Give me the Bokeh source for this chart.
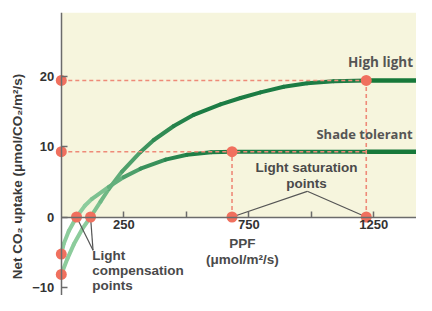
import math
from bokeh.plotting import figure
from bokeh.models import (Range1d, LinearAxis, FixedTicker, BoxAnnotation, Label,
                          ColumnDataSource)
from bokeh.embed import file_html
from bokeh.resources import INLINE

# ---------------- data ----------------
high_x = [0, 25, 50, 84, 117, 157, 190, 243, 317, 370, 450, 530, 637, 717, 797, 890, 984, 1090, 1220]
high_y = [-8.2, -5.9, -3.9, -1.7, 0, 2.2, 4.0, 6.5, 9.3, 11.0, 13.0, 14.6, 16.1, 17.0, 17.8, 18.6, 19.1, 19.4, 19.5]
shade_x = [0, 10, 30, 61, 94, 123, 190, 250, 317, 417, 503, 600, 683, 1220]
shade_y = [-5.3, -3.8, -2.0, 0, 1.6, 2.6, 4.3, 5.7, 6.9, 8.2, 8.9, 9.25, 9.33, 9.33]
plateau_end = 1470

comp_x = [61, 117]            # light compensation points (y = 0)
sat_x = [683, 1220]           # light saturation points (shade, high)
sat_y = [9.33, 19.5]          # saturation uptake (shade, high)
resp_y = [-5.3, -8.2]         # dark respiration at PPF = 0 (shade, high)

x_ticks = [250, 750, 1250]
x_minor = [500, 1000]
y_ticks = [-10, 0, 10, 20]
y_tick_text = {-10: "\u221210", 0: "0", 10: "10", 20: "20"}

# ---------------- figure ----------------
X_END = 1421
p = figure(width=416, height=295, x_range=Range1d(-243.2, X_END), y_range=Range1d(-11.21, 29.21),
           x_axis_type=None, y_axis_type=None, output_backend="svg", toolbar_location=None,
           min_border_left=0, min_border_right=0, min_border_top=12, min_border_bottom=0)
p.outline_line_color = None
p.background_fill_color = "white"
p.border_fill_color = "white"
p.xgrid.visible = False
p.ygrid.visible = False

p.add_layout(BoxAnnotation(left=0, bottom=0, fill_color="#f6f5dd", fill_alpha=1,
                           line_color=None, level="underlay"))

tick_font = "Liberation Sans"
axis_col = "#6b6b6b"
yaxis = LinearAxis(fixed_location=0, ticker=FixedTicker(ticks=y_ticks),
                   major_label_overrides=y_tick_text)
yaxis.major_tick_in = 6
yaxis.major_tick_out = 0
yaxis.minor_tick_line_color = None
yaxis.major_label_standoff = 7
yaxis.axis_line_color = axis_col
yaxis.axis_line_width = 1.5
yaxis.major_tick_line_color = axis_col
yaxis.major_tick_line_width = 1.5
yaxis.major_label_text_font = tick_font
yaxis.major_label_text_font_style = "bold"
yaxis.major_label_text_font_size = "13px"
yaxis.major_label_text_color = "#333333"
p.add_layout(yaxis, "left")

xaxis = LinearAxis(fixed_location=0, ticker=FixedTicker(ticks=x_ticks, minor_ticks=x_minor),
                   bounds=(0, X_END))
xaxis.major_tick_in = 6
xaxis.major_tick_out = 0
xaxis.minor_tick_in = 6
xaxis.minor_tick_out = 0
xaxis.major_label_standoff = 3
xaxis.axis_line_color = axis_col
xaxis.axis_line_width = 1.5
xaxis.major_tick_line_color = axis_col
xaxis.minor_tick_line_color = axis_col
xaxis.major_tick_line_width = 1.5
xaxis.minor_tick_line_width = 1.5
xaxis.major_label_text_font = tick_font
xaxis.major_label_text_font_style = "bold"
xaxis.major_label_text_font_size = "13px"
xaxis.major_label_text_color = "#333333"
p.add_layout(xaxis, "below")

# ---------------- curves (colour shades from light to dark green) ----------------
light = (140, 204, 156)
dark = (28, 124, 68)


def seg_colors(xs, ys, y0, y1):
    cols = []
    for i in range(len(xs) - 1):
        ym = 0.5 * (ys[i] + ys[i + 1])
        t = min(1.0, max(0.0, (ym - y0) / (y1 - y0)))
        c = tuple(int(round(light[k] + (dark[k] - light[k]) * t)) for k in range(3))
        cols.append("#%02x%02x%02x" % c)
    return cols


for xs, ys, y0, y1 in [(high_x, high_y, -1.0, 15.0), (shade_x, shade_y, 2.5, 9.3)]:
    src = ColumnDataSource(dict(
        xs=[[xs[i], xs[i + 1]] for i in range(len(xs) - 1)],
        ys=[[ys[i], ys[i + 1]] for i in range(len(xs) - 1)],
        color=seg_colors(xs, ys, y0, y1)))
    p.multi_line("xs", "ys", source=src, line_color="color", line_width=4, line_cap="round")

# plateaus beyond the high-light saturation point
p.segment(x0=[sat_x[1], sat_x[1]], y0=sat_y, x1=[plateau_end, plateau_end], y1=sat_y,
          line_color="#17793a", line_width=4.5, line_cap="round")

# ---------------- dashed guide lines ----------------
guide = "#ee8a78"
p.segment(x0=[0, 0], y0=sat_y, x1=[sat_x[1], sat_x[1]], y1=sat_y,
          line_color=guide, line_width=1.6, line_dash="4 3")
p.segment(x0=sat_x, y0=[0, 0], x1=sat_x, y1=sat_y,
          line_color=guide, line_width=1.6, line_dash="4 3")

# ---------------- leader lines ----------------
lead = "#555555"
p.segment(x0=comp_x, y0=[0, 0], x1=[127, 127], y1=[-4.76, -4.76], line_color=lead, line_width=1.2)
p.segment(x0=sat_x, y0=[0, 0], x1=[984, 984], y1=[3.67, 3.67], line_color=lead, line_width=1.2)

# ---------------- red points ----------------
pt_x = [0, 0, 0, 0] + comp_x + sat_x + sat_x
pt_y = sat_y + resp_y + [0, 0] + [0, 0] + sat_y
p.scatter(pt_x, pt_y, size=11, fill_color="#f0705e", line_color=None)


# ---------------- texts ----------------
def add_text(x, y, t, align="center", font="Liberation Sans", size="13.5px",
             color="#4a4a4a", angle=0.0):
    p.add_layout(Label(x=x, y=y, text=t, text_align=align, text_baseline="middle",
                       text_font=font, text_font_style="bold", text_font_size=size,
                       text_color=color, angle=angle))


add_text(-175, 5.79, "Net CO\u2082 uptake (\u03bcmol/CO\u2082/m\u00b2/s)", size="13.5px",
         color="#3a3a3a", angle=math.pi / 2)
add_text(1277, 22.2, "High light", font="Open Sans", size="13.5px", color="#555555")
add_text(1213, 11.9, "Shade tolerant", font="Open Sans", size="13px", color="#555555")
add_text(981, 7.1, "Light saturation")
add_text(981, 4.81, "points")
add_text(124, -5.47, "Light", align="left")
add_text(124, -7.61, "compensation", align="left")
add_text(124, -9.76, "points", align="left")
add_text(724, -3.76, "PPF")
add_text(724, -6.04, "(\u03bcmol/m\u00b2/s)")

open("out.html", "w").write(file_html(p, INLINE))
